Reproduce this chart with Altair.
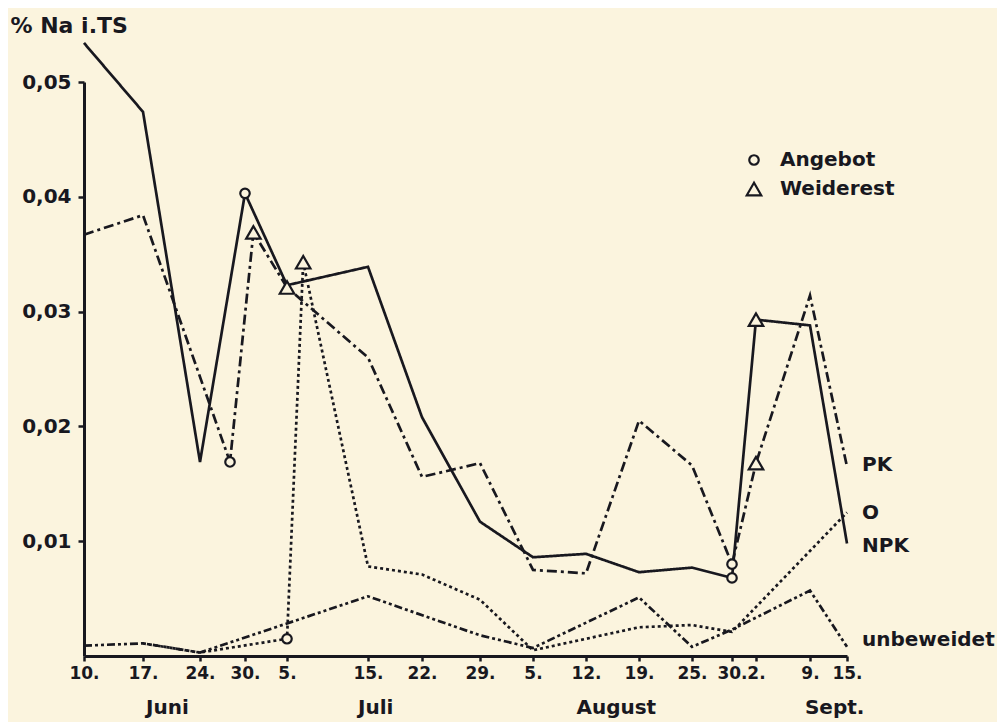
import altair as alt
import pandas as pd

BG = "#FBF4DE"
INK = "#18181f"
FONT = "DejaVu Sans"

# x: days after 10 June
tick_days = [0, 7, 14, 20, 25, 35, 42, 49, 56, 63, 70, 76, 81, 84, 91, 97]
tick_labels = ["10.", "17.", "24.", "30.", "5.", "15.", "22.", "29.", "5.",
               "12.", "19.", "25.", "30.", "2.", "9.", "15."]
# hand-drawn (uneven) spacing of the original axis
tick_px = [0, 59, 116, 161, 203, 284, 338, 396, 449, 502, 555, 608, 648, 672, 726, 763]

months = ["Juni", "Juli", "August", "Sept."]
month_days = [10, 36, 67, 95]

y_ticks = [0.01, 0.02, 0.03, 0.04, 0.05]

npk_days = [0, 7, 14, 20, 25, 35, 42, 49, 56, 63, 70, 76, 81, 84, 91, 97]
npk_vals = [0.0534, 0.0474, 0.0169, 0.0403, 0.0323, 0.0339, 0.0208, 0.0117,
            0.0086, 0.0089, 0.0073, 0.0077, 0.0068, 0.0293, 0.0288, 0.0098]

pk_days = [0, 7, 18, 21, 25, 35, 42, 49, 56, 63, 70, 76, 81, 84, 91, 97]
pk_vals = [0.0367, 0.0384, 0.0169, 0.0369, 0.0321, 0.0260, 0.0156, 0.0168,
           0.0075, 0.0072, 0.0205, 0.0166, 0.0080, 0.0168, 0.0314, 0.0165]

o_days = [7, 14, 25, 27, 35, 42, 49, 56, 70, 76, 81, 97]
o_vals = [0.0011, 0.0003, 0.0015, 0.0343, 0.0078, 0.0071, 0.0049, 0.0005,
          0.0025, 0.0027, 0.0021, 0.0125]

unb_days = [0, 7, 14, 35, 49, 56, 70, 76, 81, 91, 97]
unb_vals = [0.0009, 0.0011, 0.0003, 0.0052, 0.0018, 0.0007, 0.0051, 0.0008,
            0.0023, 0.0057, 0.0008]

mk_days = [20, 18, 25, 81, 81, 21, 25, 27, 84, 84]
mk_vals = [0.0403, 0.0169, 0.0015, 0.0068, 0.0080, 0.0369, 0.0321, 0.0343, 0.0293, 0.0168]
mk_type = ["Angebot"] * 5 + ["Weiderest"] * 5

end_labels = ["PK", "O", "NPK", "unbeweidet"]
end_days = [97, 97, 97, 97]
end_vals = [0.0166, 0.0125, 0.0096, 0.0014]

series_names = ["NPK", "PK", "O", "unbeweidet"]
dashes = [[1, 0], [10, 4, 3, 4], [3, 3], [8, 3, 3, 3, 3, 3]]

rows = []
for name, ds, vs in [("NPK", npk_days, npk_vals), ("PK", pk_days, pk_vals),
                     ("O", o_days, o_vals), ("unbeweidet", unb_days, unb_vals)]:
    for d, v in zip(ds, vs):
        rows.append({"series": name, "day": d, "val": v})
df_lines = pd.DataFrame(rows)
df_mk = pd.DataFrame({"day": mk_days, "val": mk_vals, "type": mk_type})
df_end = pd.DataFrame({"day": end_days, "val": end_vals, "label": end_labels})
df_month = pd.DataFrame({"day": month_days, "label": months})

label_expr = "[" + ",".join("'%s'" % l for l in tick_labels) + "][indexof([" + \
    ",".join(str(d) for d in tick_days) + "], datum.value)]"

x_scale = alt.Scale(domain=tick_days, range=tick_px, nice=False, zero=False)
y_scale = alt.Scale(domain=[0, 0.05], nice=False, zero=False)

x_axis = alt.Axis(values=tick_days, labelExpr=label_expr, title=None, grid=False,
                  labelOverlap=False, labelFlush=False, tickSize=5, tickWidth=2.5,
                  domainWidth=3, labelFontSize=17, labelFontWeight="bold",
                  labelPadding=4, labelColor=INK, domainColor=INK, tickColor=INK,
                  labelFont=FONT)
y_axis = alt.Axis(values=y_ticks, labelExpr="replace(format(datum.value, '.2f'), '.', ',')",
                  title="% Na i.TS", titleAngle=0, titleAlign="left",
                  titleBaseline="alphabetic", titleX=-74, titleY=-50,
                  titleFontSize=22, titleFontWeight="bold", titleColor=INK, titleFont=FONT,
                  grid=False, tickSize=6, tickWidth=2.5, domainWidth=3,
                  labelFontSize=20, labelFontWeight="bold", labelPadding=7,
                  labelColor=INK, domainColor=INK, tickColor=INK, labelFont=FONT)

lines = alt.Chart(df_lines).mark_line(strokeWidth=2.7, color=INK, strokeCap="butt").encode(
    x=alt.X("day:Q", scale=x_scale, axis=x_axis),
    y=alt.Y("val:Q", scale=y_scale, axis=y_axis),
    strokeDash=alt.StrokeDash("series:N", scale=alt.Scale(domain=series_names, range=dashes),
                              legend=None),
    detail="series:N",
)

markers = alt.Chart(df_mk).mark_point(filled=True, fill=BG, stroke=INK, strokeWidth=2.2,
                                      opacity=1, fillOpacity=1).encode(
    x=alt.X("day:Q", scale=x_scale),
    y=alt.Y("val:Q", scale=y_scale),
    shape=alt.Shape("type:N", scale=alt.Scale(domain=["Angebot", "Weiderest"],
                                              range=["circle", "triangle-up"]),
                    legend=alt.Legend(title=None, orient="none", legendX=660, legendY=68,
                                      labelFontSize=20, labelFontWeight="bold",
                                      labelColor=INK, labelFont=FONT, rowPadding=8,
                                      labelOffset=16, symbolStrokeWidth=2.2,
                                      symbolStrokeColor=INK, symbolFillColor=BG)),
    size=alt.Size("type:N", scale=alt.Scale(domain=["Angebot", "Weiderest"], range=[90, 210]),
                  legend=alt.Legend(title=None, orient="none", legendX=660, legendY=68)),
)

end_text = alt.Chart(df_end).mark_text(align="left", baseline="middle", dx=15, fontSize=20,
                                       fontWeight="bold", color=INK, font=FONT).encode(
    x=alt.X("day:Q", scale=x_scale),
    y=alt.Y("val:Q", scale=y_scale),
    text="label:N",
)

month_text = alt.Chart(df_month).mark_text(align="center", baseline="middle", fontSize=20,
                                           fontWeight="bold", color=INK, font=FONT).encode(
    x=alt.X("day:Q", scale=x_scale),
    y=alt.value(626),
    text="label:N",
)

chart = alt.layer(lines, markers, end_text, month_text).properties(
    width=763, height=574,
    autosize=alt.AutoSizeParams(type="none"),
    padding={"left": 76, "top": 74, "right": 150, "bottom": 66},
    background=BG,
).configure_view(strokeWidth=0)

chart.save("out.html", embed_options={"renderer": "svg", "actions": False})
